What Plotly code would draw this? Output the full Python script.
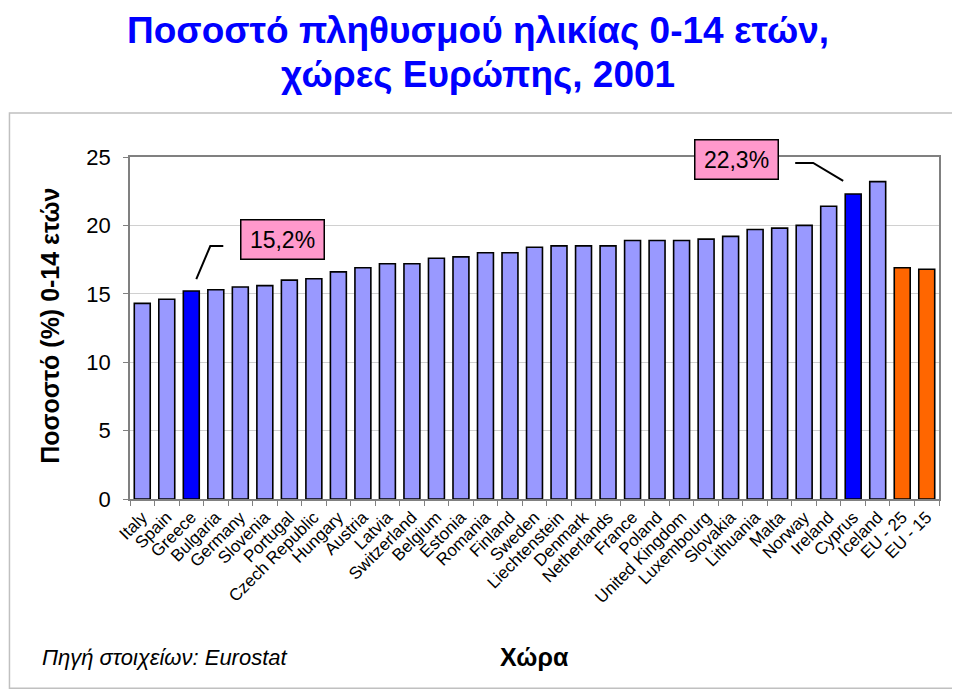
"""
Ποσοστό πληθυσμού ηλικίας 0-14 ετών, χώρες Ευρώπης, 2001
"""
import plotly.graph_objects as go

countries = [
    'Italy', 'Spain', 'Greece', 'Bulgaria', 'Germany', 'Slovenia', 'Portugal',
    'Czech Republic', 'Hungary', 'Austria', 'Latvia', 'Switzerland', 'Belgium',
    'Estonia', 'Romania', 'Finland', 'Sweden', 'Liechtenstein', 'Denmark',
    'Netherlands', 'France', 'Poland', 'United Kingdom', 'Luxembourg',
    'Slovakia', 'Lithuania', 'Malta', 'Norway', 'Ireland', 'Cyprus',
    'Iceland', 'EU - 25', 'EU - 15'
]
values = [
    14.3, 14.6, 15.2, 15.3, 15.5, 15.6, 16.0, 16.1, 16.6, 16.9, 17.2, 17.2,
    17.6, 17.7, 18.0, 18.0, 18.4, 18.5, 18.5, 18.5, 18.9, 18.9, 18.9, 19.0,
    19.2, 19.7, 19.8, 20.0, 21.4, 22.3, 23.2, 16.9, 16.8
]
highlight = ['Greece', 'Cyprus']
eu_groups = ['EU - 25', 'EU - 15']
title_lines = ['Ποσοστό πληθυσμού ηλικίας 0-14 ετών,', 'χώρες Ευρώπης, 2001']

FONT = 'Liberation Sans, Arial, sans-serif'

# Χρώματα μπαρών
colors = []
for c in countries:
    if c in highlight:
        colors.append('#0000FF')
    elif c in eu_groups:
        colors.append('#FF6600')
    else:
        colors.append('#9999FF')

fig = go.Figure(data=[
    go.Bar(
        x=countries,
        y=values,
        marker=dict(color=colors, line=dict(color='black', width=1.6)),
        hoverinfo='x+y',
    )
])

# Πλαίσιο γύρω από το γράφημα
fig.add_shape(type='rect', xref='paper', yref='paper',
              x0=-0.149, x1=1.020, y0=-0.553, y1=1.129,
              line=dict(color='#C0C0C0', width=1.5), layer='below')

# Τίτλος σε δύο γραμμές
for line, ty in zip(title_lines, [1.4357, 1.307]):
    fig.add_annotation(text='<b>' + line + '</b>', xref='paper', yref='paper',
                       x=0.430, y=ty, xanchor='center', yanchor='top',
                       showarrow=False,
                       font=dict(family=FONT, size=37, color='#0000FF'))

# Επισημάνσεις με γραμμή οδηγό
callouts = [
    ('Greece', '15,2%', 91, 52, 'M 5,12 L 19,45 L 32,45'),
    ('Cyprus', '22,3%', -117, 34, 'M -10,13 L -40,31 L -58,31'),
]
for name, label, dx, dy, path in callouts:
    i = countries.index(name)
    fig.add_shape(type='path', xref='x', yref='y',
                  xsizemode='pixel', ysizemode='pixel',
                  xanchor=i, yanchor=values[i], path=path,
                  line=dict(color='black', width=2))
    fig.add_annotation(x=name, y=values[i], xshift=dx, yshift=dy,
                       text=label, showarrow=False,
                       font=dict(family=FONT, size=23, color='black'),
                       bgcolor='#FF99CC', bordercolor='black', borderwidth=1.5,
                       width=80, height=36)

fig.add_annotation(text='<b>Ποσοστό (%) 0-14 ετών</b>', textangle=-90,
                   xref='paper', yref='paper', x=-0.099, y=0.506,
                   xanchor='center', yanchor='middle', showarrow=False,
                   font=dict(family=FONT, size=25, color='black'))
fig.add_annotation(text='<b>Χώρα</b>', xref='paper', yref='paper',
                   x=0.5, y=-0.462, xanchor='center', yanchor='middle',
                   showarrow=False,
                   font=dict(family=FONT, size=25, color='black'))
fig.add_annotation(text='<i>Πηγή στοιχείων: Eurostat</i>',
                   xref='paper', yref='paper', x=-0.111, y=-0.462,
                   xanchor='left', yanchor='middle', showarrow=False,
                   font=dict(family=FONT, size=22, color='black'))

# Η σελίδα έχει περιθώριο 8px, γι' αυτό το σχήμα είναι λίγο μικρότερο
fig.update_layout(
    width=952, height=683,
    margin=dict(l=122, r=21, t=149, b=192, autoexpand=False),
    plot_bgcolor='white', paper_bgcolor='white',
    bargap=0.35,
    showlegend=False,
    font=dict(family=FONT, color='black'),
    xaxis=dict(
        tickangle=-45, tickfont=dict(size=17),
        showline=True, linecolor='#808080', linewidth=1.5, mirror=True,
        ticks='outside', tickson='boundaries', ticklen=5, tickcolor='#808080',
        showgrid=False,
    ),
    yaxis=dict(
        range=[0, 25], dtick=5, tickfont=dict(size=22),
        showline=True, linecolor='#808080', linewidth=1.5, mirror=True,
        ticks='outside', ticklen=5, tickcolor='#808080',
        ticklabelstandoff=8,
        gridcolor='#D0D0D0', gridwidth=1, zeroline=False,
    ),
)

fig.write_html("out.html")
